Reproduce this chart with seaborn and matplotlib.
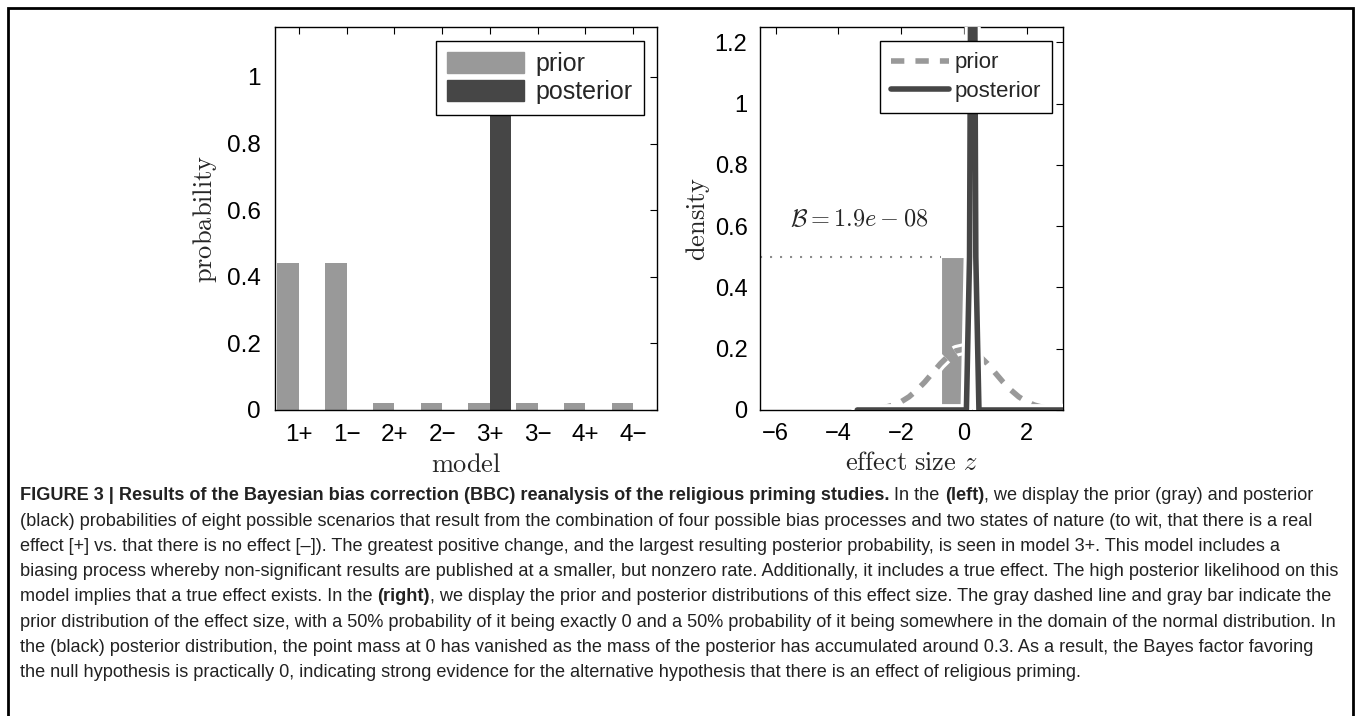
import matplotlib
matplotlib.use('Agg')
import matplotlib.pyplot as plt
import matplotlib.patheffects as pe
from matplotlib.patches import Rectangle, Patch
from matplotlib.lines import Line2D
import seaborn as sns
import pandas as pd

# Left panel: model probabilities
models = ['1+', '1\u2212', '2+', '2\u2212', '3+', '3\u2212', '4+', '4\u2212']
prior_prob = [0.44, 0.44, 0.02, 0.02, 0.02, 0.02, 0.02, 0.02]
posterior_prob = [0.0, 0.0, 0.0, 0.0, 0.99, 0.0, 0.0, 0.0]
prob_ticks = [0, 0.2, 0.4, 0.6, 0.8, 1.0]
prob_ticklabels = ['0', '0.2', '0.4', '0.6', '0.8', '1']

# Right panel: effect size densities
z_prior = [-3.5, -3.25, -3.0, -2.75, -2.5, -2.25, -2.0, -1.75, -1.5, -1.25, -1.0,
           -0.75, -0.5, -0.25, 0.0, 0.25, 0.5, 0.75, 1.0, 1.25, 1.5, 1.75, 2.0,
           2.25, 2.5, 2.75, 3.0, 3.15]
prior_density = [0.0, 0.001, 0.002, 0.005, 0.009, 0.016, 0.027, 0.043, 0.065, 0.091, 0.121,
                 0.151, 0.176, 0.193, 0.199, 0.193, 0.176, 0.151, 0.121, 0.091, 0.065, 0.043, 0.027,
                 0.016, 0.009, 0.005, 0.002, 0.001]
z_post = [-3.4, 0.08, 0.18, 0.28, 0.38, 0.48, 3.15]
post_density = [0.0, 0.0, 0.5, 3.0, 0.5, 0.0, 0.0]
spike_left = -0.72
spike_width = 0.74
spike_height = 0.5
bayes_factor = '1.9e-08'
z_ticks = [-6, -4, -2, 0, 2]
z_ticklabels = ['\u22126', '\u22124', '\u22122', '0', '2']
dens_ticks = [0, 0.2, 0.4, 0.6, 0.8, 1.0, 1.2]
dens_ticklabels = ['0', '0.2', '0.4', '0.6', '0.8', '1', '1.2']

caption_lines = [
    [('FIGURE 3 | Results of the Bayesian bias correction (BBC) reanalysis of the religious priming studies.', True),
     (' In the', False), (' (left)', True), (', we display the prior (gray) and posterior', False)],
    [('(black) probabilities of eight possible scenarios that result from the combination of four possible bias processes and two states of nature (to wit, that there is a real', False)],
    [('effect [+] vs. that there is no effect [\u2013]). The greatest positive change, and the largest resulting posterior probability, is seen in model 3+. This model includes a', False)],
    [('biasing process whereby non-significant results are published at a smaller, but nonzero rate. Additionally, it includes a true effect. The high posterior likelihood on this', False)],
    [('model implies that a true effect exists. In the', False), (' (right)', True),
     (', we display the prior and posterior distributions of this effect size. The gray dashed line and gray bar indicate the', False)],
    [('prior distribution of the effect size, with a 50% probability of it being exactly 0 and a 50% probability of it being somewhere in the domain of the normal distribution. In', False)],
    [('the (black) posterior distribution, the point mass at 0 has vanished as the mass of the posterior has accumulated around 0.3. As a result, the Bayes factor favoring', False)],
    [('the null hypothesis is practically 0, indicating strong evidence for the alternative hypothesis that there is an effect of religious priming.', False)],
]

PRIOR_GRAY = '#999999'
POST_DARK = '#464646'

sns.set_style('white')
plt.rcParams['font.family'] = ['Liberation Sans', 'DejaVu Sans']
plt.rcParams['mathtext.fontset'] = 'cm'

W, H = 1358, 716
fig = plt.figure(figsize=(W / 100, H / 100), dpi=100)
ax1 = fig.add_axes([275 / W, 1 - 410 / H, 382 / W, 383 / H])
ax2 = fig.add_axes([760 / W, 1 - 410 / H, 302.7 / W, 383 / H])

# ---- left: bar chart of model probabilities
df = pd.DataFrame({
    'model': models * 2,
    'probability': prior_prob + posterior_prob,
    'dist': ['prior'] * len(models) + ['posterior'] * len(models),
})
sns.barplot(data=df, x='model', y='probability', hue='dist', order=models,
            palette=[PRIOR_GRAY, POST_DARK], width=0.9, saturation=1,
            linewidth=0, legend=False, ax=ax1)
ax1.set_xlim(-0.5, 7.5)
ax1.set_ylim(0, 1.15)
ax1.set_yticks(prob_ticks)
ax1.set_yticklabels(prob_ticklabels)
ax1.set_xlabel(r'$\mathrm{model}$', fontsize=19, labelpad=5)
ax1.set_ylabel(r'$\mathrm{probability}$', fontsize=19, labelpad=6)
ax1.legend(handles=[Patch(color=PRIOR_GRAY, label='prior'), Patch(color=POST_DARK, label='posterior')],
           loc='upper right', bbox_to_anchor=(0.966, 0.963), borderaxespad=0,
           fontsize=18, fancybox=False, framealpha=1, edgecolor='black',
           handlelength=3.1, handleheight=0.9, handletextpad=0.45,
           labelspacing=0.15, borderpad=0.45)

# ---- right: prior / posterior densities of effect size
outline = [pe.withStroke(linewidth=8.5, foreground='white')]
ax2.bar([spike_left], [spike_height], width=spike_width, align='edge',
        color=PRIOR_GRAY, edgecolor='white', linewidth=1.5, zorder=2)
ax2.hlines(spike_height, -6.5, spike_left, colors='#8c8c8c', linestyles=(0, (1, 3.8)),
           linewidth=1.5, zorder=2)
sns.lineplot(x=z_prior, y=prior_density, color=PRIOR_GRAY, linewidth=4.0,
             dashes=(2.4, 2.0), path_effects=outline, ax=ax2, zorder=3)
sns.lineplot(x=z_post, y=post_density, color=POST_DARK, linewidth=4.0,
             path_effects=outline, ax=ax2, zorder=4)
ax2.text(-5.55, 0.62, r'$\mathcal{B} = ' + bayes_factor.replace('-', ' - ') + '$',
         fontsize=17.5, va='center', ha='left')
ax2.set_xlim(-6.5, 3.15)
ax2.set_ylim(0, 1.25)
ax2.set_xticks(z_ticks)
ax2.set_xticklabels(z_ticklabels)
ax2.set_yticks(dens_ticks)
ax2.set_yticklabels(dens_ticklabels)
ax2.set_xlabel(r'$\mathrm{effect\ size}\ z$', fontsize=19, labelpad=5)
ax2.set_ylabel(r'$\mathrm{density}$', fontsize=19, labelpad=2)
ax2.legend(handles=[Line2D([], [], color=PRIOR_GRAY, lw=4.0, dashes=(2.4, 2.0), label='prior'),
                    Line2D([], [], color=POST_DARK, lw=4.0, label='posterior')],
           loc='upper right', bbox_to_anchor=(0.965, 0.963), borderaxespad=0,
           fontsize=16, fancybox=False, framealpha=1, edgecolor='black',
           handlelength=2.6, handletextpad=0.25, labelspacing=0.35, borderpad=0.5)

ax1.tick_params(direction='in', top=True, right=True, length=5, width=0.8,
                labelsize=17.5, colors='black', pad=10)
ax2.tick_params(direction='in', top=True, right=True, length=5, width=0.8,
                labelsize=17, colors='black', pad=9)
for ax in (ax1, ax2):
    for s in ax.spines.values():
        s.set_visible(True)
        s.set_color('black')
        s.set_linewidth(1.0)

# ---- caption text, placed segment by segment
renderer = fig.canvas.get_renderer()
probe = fig.text(0, 0, caption_lines[3][0][0], fontsize=11)
cap_size = 11 * (1336 - 20) / probe.get_window_extent(renderer).width
probe.set_fontsize(cap_size)
probe.set_text('a a')
w_sp = probe.get_window_extent(renderer).width
probe.set_text('aa')
w_sp -= probe.get_window_extent(renderer).width
probe.remove()

y = 496
for segs in caption_lines:
    x = 20
    for text, bold in segs:
        if text.startswith(' '):
            x += w_sp
            text = text.lstrip()
        t = fig.text(x / W, 1 - y / H, text, fontsize=cap_size, va='center', ha='left',
                     fontweight='bold' if bold else 'normal', color='#222222')
        x = t.get_window_extent(renderer).x1
    y += 25.2

# frame round the figure
fig.add_artist(Rectangle((8 / W, -0.05), (1353 - 8) / W, 1.05 - 8 / H, transform=fig.transFigure,
                         fill=False, edgecolor='black', linewidth=2, clip_on=False))

fig.savefig('out.png', dpi=100)
